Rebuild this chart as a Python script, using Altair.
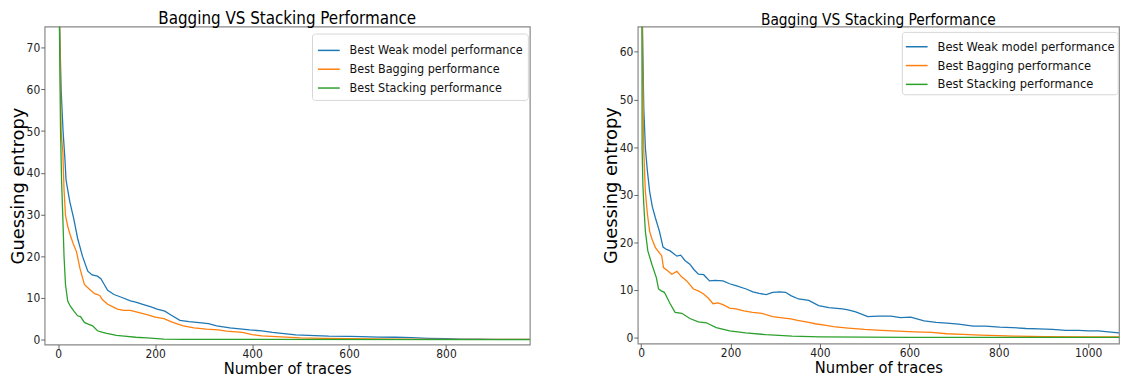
import altair as alt
import pandas as pd

SERIES = ["Best Weak model performance", "Best Bagging performance", "Best Stacking performance"]
COLORS = ["#1f77b4", "#ff7f0e", "#2ca02c"]
TITLE = "Bagging VS Stacking Performance"

# ---- Left panel ----
L_weak_x = [1, 3, 6, 10, 14, 16, 18, 24, 32, 40, 50, 61, 70, 81, 88, 95, 102, 115, 129, 149,
            160, 176, 190, 204, 220, 231, 251, 270, 286, 310, 327, 354, 395, 420, 442, 490, 530, 558, 600, 626,
            660, 695, 730, 763, 800, 832, 870, 900, 940, 1000]
L_weak_y = [128, 75, 60, 50, 43, 38.5, 37, 33, 29, 24.3, 20, 16.4, 15.5, 15.2, 14.6, 13.2, 11.8, 10.8, 10.2, 9.3,
            9.0, 8.4, 7.9, 7.3, 6.8, 6.0, 4.6, 4.3, 4.1, 3.8, 3.3, 2.8, 2.3, 2.1, 1.7, 1.1, 0.95, 0.8, 0.75, 0.7,
            0.6, 0.55, 0.45, 0.3, 0.2, 0.1, 0.08, 0.05, 0.03, 0.02]
L_bag_x = [1, 3, 6, 9.6, 12, 15, 20, 25, 31, 37.6, 45, 54, 65, 75, 81, 86, 91, 102, 112, 122,
           135, 149, 165, 183, 200, 218, 235, 258, 280, 306, 330, 347, 380, 400, 420, 450, 480, 500, 550, 600,
           700, 800, 1000]
L_bag_y = [128, 75, 50, 44.8, 36, 29.8, 27, 25, 23, 21.1, 17, 13.2, 12, 11, 10.8, 10.5, 9.6, 8.45, 7.9, 7.3,
           7.0, 7.0, 6.5, 6.0, 5.4, 5.0, 4.2, 3.3, 2.8, 2.5, 2.3, 2.0, 1.7, 1.2, 0.9, 0.7, 0.5, 0.4, 0.3, 0.2,
           0.1, 0.05, 0.02]
L_stack_x = [1, 2.5, 4.8, 7, 9.6, 12, 15, 19.6, 25, 32, 40, 46, 54, 62, 71, 81, 90, 100, 108, 120,
             136, 160, 183, 218, 260, 1000]
L_stack_y = [128, 75, 50, 38, 29, 20, 13.2, 9.25, 8, 6.9, 5.7, 5.5, 4.1, 3.7, 3.3, 2.1, 1.8, 1.5, 1.3, 1.0,
             0.8, 0.55, 0.4, 0.1, 0.02, 0.0]

# ---- Right panel ----
R_weak_x = [1, 3, 6, 9.6, 14, 19, 25, 32, 41, 49, 57, 65, 80, 88.5, 98, 109, 118, 128, 140, 153,
            165, 183, 198, 212, 235, 250, 264, 280, 294, 310, 323, 335, 352, 375, 397, 420, 450, 463, 480, 507,
            530, 559, 580, 603, 633, 660, 684, 710, 743, 770, 802, 830, 861, 890, 920, 950, 979, 1000, 1023, 1045,
            1068, 1090]
R_weak_y = [128, 65, 48, 39.7, 35, 30.7, 27.5, 25.1, 22.3, 19, 18.5, 18.2, 17.1, 17.3, 16.2, 15.4, 14.3, 13.3, 13.2, 11.9,
            12.0, 11.9, 11.3, 10.9, 10.2, 9.6, 9.3, 9.0, 9.5, 9.6, 9.5, 8.8, 8.1, 7.8, 6.7, 6.3, 6.0, 5.8, 5.4, 4.4,
            4.5, 4.5, 4.2, 4.3, 3.5, 3.2, 3.05, 2.8, 2.4, 2.4, 2.2, 2.1, 1.9, 1.8, 1.7, 1.5, 1.5, 1.4, 1.4, 1.2,
            1.0, 0.9]
R_bag_x = [1, 3, 6, 9.5, 14, 19, 25, 32, 41, 46, 50, 60, 68.6, 80, 90, 102, 117, 128, 139, 150,
           161, 172, 183, 198, 212, 230, 249, 270, 294, 320, 335, 350, 375, 389, 410, 430, 463, 500, 537, 575,
           611, 650, 684, 720, 758, 800, 832, 870, 900, 1000, 1090]
R_bag_y = [128, 60, 39, 30.7, 26, 22.3, 20.5, 18.9, 17.8, 17.2, 14.7, 14.0, 13.3, 13.9, 12.8, 11.9, 10.2, 9.8, 9.2, 8.3,
           7.1, 7.3, 6.9, 6.2, 6.0, 5.6, 5.3, 5.1, 4.4, 4.1, 3.9, 3.6, 3.2, 2.9, 2.6, 2.3, 2.0, 1.7, 1.5, 1.35,
           1.2, 1.1, 0.8, 0.65, 0.5, 0.4, 0.3, 0.25, 0.2, 0.15, 0.12]
R_stack_x = [1, 2.2, 4, 6, 9.5, 15, 24, 34, 39, 45, 52, 65, 76, 91, 109, 128, 146, 168, 198, 234,
             279, 338, 400, 500, 600, 1090]
R_stack_y = [128, 39.7, 32, 27.9, 22.3, 18.2, 15.4, 12.6, 10.2, 9.8, 9.5, 7.1, 5.3, 5.1, 4.0, 3.3, 3.1, 2.1, 1.4, 1.0,
             0.6, 0.3, 0.15, 0.1, 0.05, 0.03]

L_xticks = [0, 200, 400, 600, 800]
L_yticks = [0, 10, 20, 30, 40, 50, 60, 70]
R_xticks = [0, 200, 400, 600, 800, 1000]
R_yticks = [0, 10, 20, 30, 40, 50, 60]

NARROW = "DejaVu Sans Condensed, Liberation Sans Narrow, sans-serif"


def frame(parts):
    rows = []
    for name, xs, ys in parts:
        for i, (a, b) in enumerate(zip(xs, ys)):
            rows.append({"series": name, "x": a, "y": b, "i": i})
    return pd.DataFrame(rows)


left_df = frame([(SERIES[0], L_weak_x, L_weak_y), (SERIES[1], L_bag_x, L_bag_y), (SERIES[2], L_stack_x, L_stack_y)])
right_df = frame([(SERIES[0], R_weak_x, R_weak_y), (SERIES[1], R_bag_x, R_bag_y), (SERIES[2], R_stack_x, R_stack_y)])


def panel(df, xdom, ydom, xticks, yticks, w, h, lx, ly, lfs, lpad, tfs):
    return alt.Chart(df).mark_line(clip=True, strokeWidth=1.3).encode(
        x=alt.X("x:Q",
                scale=alt.Scale(domain=xdom, nice=False, zero=False),
                axis=alt.Axis(values=xticks, title="Number of traces", format="d",
                              labelPadding=0,
                              titleFont=NARROW, titleFontSize=16.5,
                              titleBaseline="alphabetic", titleY=29)),
        y=alt.Y("y:Q",
                scale=alt.Scale(domain=ydom, nice=False, zero=False),
                axis=alt.Axis(values=yticks, title="Guessing entropy", format="d",
                              labelPadding=1,
                              titleFont="DejaVu Sans", titleFontSize=18, titlePadding=-1.1)),
        color=alt.Color("series:N",
                        scale=alt.Scale(domain=SERIES, range=COLORS),
                        legend=alt.Legend(orient="none", legendX=lx, legendY=ly, title=None,
                                          symbolType="stroke", symbolSize=484, symbolStrokeWidth=1.5,
                                          labelFont=NARROW, labelFontSize=lfs, labelOffset=9,
                                          labelLimit=400, labelColor="#111", padding=lpad, rowPadding=0,
                                          strokeColor="#d6d6d6", fillColor="white", cornerRadius=3)),
        order=alt.Order("i:Q"),
    ).properties(
        width=w, height=h,
        title=alt.TitleParams(TITLE, font=NARROW, fontSize=tfs, fontWeight="normal",
                              color="#000", anchor="middle", offset=-1.7),
    )


left = panel(left_df, [-28, 973], [-1.19, 75.06], L_xticks, L_yticks, 490, 321, 270, 7, 12.6, 5, 17)
right = panel(right_df, [-7.5, 1069], [-1.25, 65.3], R_xticks, R_yticks, 486, 320, 266.7, 5.3, 12.9, 3, 15.5)

chart = alt.hconcat(left, right, spacing=71).resolve_scale(
    color="independent"
).resolve_legend(
    color="independent"
).properties(
    padding={"left": 0, "top": 0, "right": 0, "bottom": -3.5}
).configure_view(
    stroke="#888888", strokeWidth=1.2
).configure_axis(
    grid=False, domain=False, tickSize=4, tickColor="#666", tickWidth=1,
    labelFont=NARROW, labelFontSize=12, labelColor="#222",
    titleColor="#000", titleFontWeight="normal",
)

chart.save("out.html", embed_options={"renderer": "svg", "actions": False})
